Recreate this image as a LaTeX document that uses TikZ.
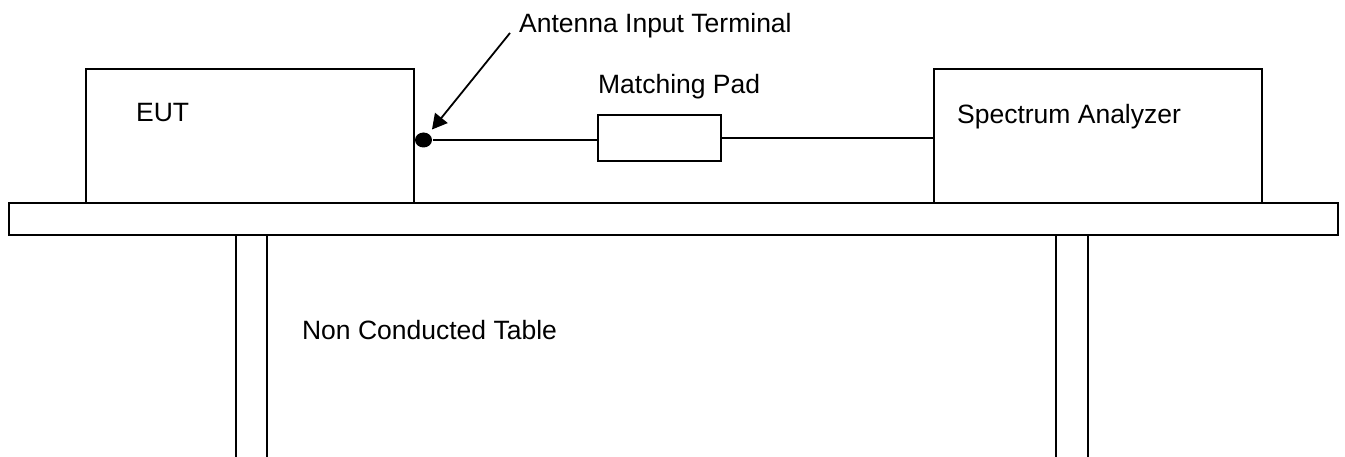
\documentclass[tikz,border=0pt]{standalone}
\usepackage{fontspec}
\setmainfont{Liberation Sans}
\usetikzlibrary{arrows.meta,shapes.geometric}
\begin{document}
\begin{tikzpicture}[x=1pt,y=-1pt,
  line width=2.2pt,
  boxsty/.style={draw=black,line width=2.2pt,rectangle,inner sep=0pt},
  lbl/.style={anchor=base west,inner sep=0pt,font=\fontsize{26.5}{30}\selectfont}]
\useasboundingbox (0,0) rectangle (1345,457);
% boxes
\node[boxsty,minimum width=328pt,minimum height=134pt] (eut) at (250,136) {};
\node[boxsty,minimum width=328pt,minimum height=134pt] (sa) at (1098,136) {};
\node[boxsty,minimum width=123pt,minimum height=46pt] (pad) at (659.5,138) {};
\node[boxsty,minimum width=1329pt,minimum height=32pt] (top) at (673.5,219) {};
% legs
\draw (236,458) -- (236,235) -- (267,235) -- (267,458);
\draw (1056,458) -- (1056,235) -- (1088,235) -- (1088,458);
% terminal dot
\node[ellipse,fill=black,draw=none,minimum width=17pt,minimum height=15pt,inner sep=0pt] (dot) at (423.5,140) {};
% connectors
\draw (dot.east) -- (dot.east -| pad.west);
\draw (pad.east) -- (pad.east -| sa.west);
% labels
\node[lbl] (eutl) at (135,122) {EUT};
\node[lbl] (sal) at (956,124) {Spectrum Analyzer};
\node[lbl] (padl) at (597,94) {Matching Pad};
\node[lbl] (ant) at (518,33) {Antenna Input Terminal};
\node[lbl] (tbl) at (301,339) {Non Conducted Table};
\coordinate (arrs) at (510,33);
\draw[-{Triangle[length=15pt,width=16pt]},line width=1.8pt,shorten >=4.5pt] (arrs) -- (dot);
\end{tikzpicture}
\end{document}
